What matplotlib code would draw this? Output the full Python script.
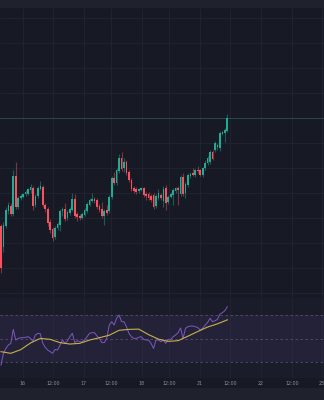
import matplotlib.pyplot as plt
import numpy as np

# hourly candles (price in chart units)
opens = [74, 53, 74, 89, 94, 86, 124, 93, 102, 103, 106, 106, 110, 112, 95, 104, 111, 113, 95, 91,
         78, 71, 63, 72, 75, 89, 91, 82, 87, 90, 101, 86, 84, 82, 85, 89, 95, 99, 101, 100,
         94, 91, 84, 90, 89, 103, 122, 117, 129, 142, 132, 138, 128, 120, 112, 111, 109, 110, 112, 106,
         106, 104, 105, 94, 102, 105, 99, 112, 98, 103, 105, 109, 112, 106, 123, 107, 115, 124, 127, 125,
         130, 130, 125, 132, 137, 138, 148, 150, 153, 152, 166, 167, 169]
closes = [32, 75, 90, 95, 86, 124, 93, 102, 104, 106, 108, 111, 113, 94, 104, 112, 114, 95, 91, 77,
          70, 62, 72, 76, 89, 91, 81, 88, 91, 101, 84, 83, 82, 86, 90, 96, 100, 101, 99, 93,
          90, 84, 89, 87, 103, 122, 117, 130, 142, 131, 138, 127, 120, 111, 109, 108, 111, 112, 105, 104,
          102, 100, 93, 104, 107, 102, 111, 97, 103, 106, 110, 112, 110, 123, 106, 116, 125, 126, 125, 130,
          129, 125, 132, 137, 142, 148, 141, 157, 155, 167, 168, 170, 182]
highs = [76, 78, 93, 98, 97, 130, 138, 104, 106, 107, 110, 112, 116, 114, 106, 114, 119, 115, 97, 93,
         81, 73, 74, 78, 91, 93, 97, 90, 93, 107, 106, 88, 86, 88, 92, 98, 102, 107, 103, 102,
         96, 98, 91, 95, 105, 124, 128, 132, 146, 148, 142, 140, 130, 122, 114, 113, 112, 113, 113, 108,
         108, 106, 107, 106, 111, 107, 114, 115, 105, 108, 112, 113, 114, 125, 127, 118, 127, 128, 132, 131,
         134, 131, 133, 140, 144, 150, 150, 159, 157, 169, 169, 172, 186]
lows = [27, 48, 72, 86, 84, 84, 91, 91, 100, 102, 104, 105, 107, 90, 93, 102, 110, 93, 88, 74,
        67, 59, 61, 70, 69, 84, 79, 80, 85, 89, 82, 79, 80, 81, 84, 87, 94, 98, 97, 91,
        88, 82, 75, 85, 87, 101, 115, 115, 127, 129, 128, 125, 118, 109, 107, 106, 107, 109, 103, 100,
        100, 98, 91, 92, 100, 100, 93, 90, 96, 102, 95, 107, 95, 104, 104, 102, 113, 122, 124, 123,
        127, 124, 123, 130, 135, 136, 140, 148, 150, 149, 165, 158, 168]

rsi = [27.4, 37.4, 41.6, 44.5, 45.9, 57.8, 48.7, 50.1, 50.7, 50.7, 51.0, 51.6, 50.1, 47.5, 53.0, 54.4,
       54.0, 45.9, 42.5, 40.2, 38.8, 37.4, 40.8, 40.2, 44.5, 48.7, 45.9, 48.0, 51.6, 54.4, 46.5, 48.1,
       47.3, 47.3, 48.7, 51.6, 54.4, 55.0, 55.0, 52.2, 50.1, 46.5, 46.5, 50.1, 61.5, 64.3, 61.5, 67.2,
       70.0, 64.3, 64.3, 60.1, 54.4, 51.6, 50.1, 50.1, 51.0, 51.6, 49.3, 48.7, 48.7, 45.9, 41.6, 48.7,
       48.7, 47.3, 48.7, 45.9, 49.3, 49.3, 51.6, 53.0, 55.0, 59.0, 50.0, 58.7, 60.1, 60.6, 60.6, 60.1,
       59.3, 57.2, 58.7, 61.5, 63.7, 67.2, 64.3, 65.1, 66.3, 70.8, 72.0, 73.7, 77.1]

# RSI moving average, sampled every 4 candles
ma_idx = [0, 4, 8, 12, 16, 20, 24, 28, 32, 36, 40, 44, 48, 52, 56, 60, 64, 68, 72, 76, 80, 84, 88, 92]
ma_val = [38.8, 37.4, 40.5, 46.2, 50.1, 49.3, 46.5, 45.3, 45.9, 48.7, 50.7, 52.8, 57.0, 57.8, 58.0,
          53.3, 49.5, 47.6, 48.2, 52.0, 56.0, 59.8, 62.5, 65.9]

tick_pos = [8.9, 21.1, 33.7, 44.7, 57.3, 68.3, 80.9, 93.1, 105.7, 118.3, 130.5]
tick_lbl = ["16", "12:00", "17", "12:00", "18", "12:00", "21", "12:00", "22", "12:00", "23"]
price_levels = [7, 32, 57, 82, 107, 132, 157, 182, 207, 232, 257, 282]

UP, DOWN = "#22ab94", "#f7525f"
BG = "#171a25"
GRID = "#212531"

fig = plt.figure(figsize=(3.24, 4.0), dpi=100)
fig.patch.set_facecolor(BG)

# toolbar strips
top = fig.add_axes([0, 0.98, 1, 0.02])
bot = fig.add_axes([0, 0, 1, 0.03])
for a in (top, bot):
    a.set_axis_off()
    a.add_patch(plt.Rectangle((0, 0), 1, 1, transform=a.transAxes, color="#1f222d"))

ax = fig.add_axes([0, 0.2575, 1, 0.72])
rax = fig.add_axes([0, 0.055, 1, 0.2], sharex=ax)

o = np.array(opens, float)
c = np.array(closes, float)
h = np.array(highs, float)
l = np.array(lows, float)
x = np.arange(len(o))
cols = [UP if cc >= oo else DOWN for oo, cc in zip(o, c)]

ax.set_facecolor(BG)
ax.vlines(x, l, h, colors=cols, linewidth=0.8, alpha=0.45)
body = np.maximum(np.abs(c - o), 0.8)
ax.bar(x, body, bottom=np.minimum(o, c), width=0.68, color=cols, linewidth=0)
ax.axhline(c[-1], color=UP, linewidth=0.6, alpha=0.35)
ax.set_ylim(3, 291)
ax.set_yticks(price_levels)
ax.grid(True, color=GRID, linewidth=0.6)
ax.set_axisbelow(True)
ax.tick_params(length=0, labelleft=False, labelbottom=False)
for s in ax.spines.values():
    s.set_visible(False)

rax.set_facecolor("#1a1d29")
rax.axhspan(30, 70, color="#7e57c2", alpha=0.1, linewidth=0)
for lvl in (70, 50, 30):
    rax.axhline(lvl, color="#787b86", linewidth=0.6, alpha=0.55, linestyle=(0, (3, 3)))
rax.plot(x, rsi, color="#7e57c2", linewidth=0.7)
rax.plot(ma_idx, ma_val, color="#c9b04c", linewidth=0.8)
rax.set_ylim(16.4, 84.5)
rax.set_yticks([])
rax.set_xticks(tick_pos)
rax.set_xticklabels(tick_lbl, fontsize=3.4, color="#8d909a")
rax.tick_params(length=0, pad=2)
rax.grid(True, axis="x", color=GRID, linewidth=0.6)
rax.set_axisbelow(True)
for s in rax.spines.values():
    s.set_visible(False)
rax.set_xlim(-0.4, 131.3)

fig.savefig("out.png", dpi=100, facecolor=BG)
